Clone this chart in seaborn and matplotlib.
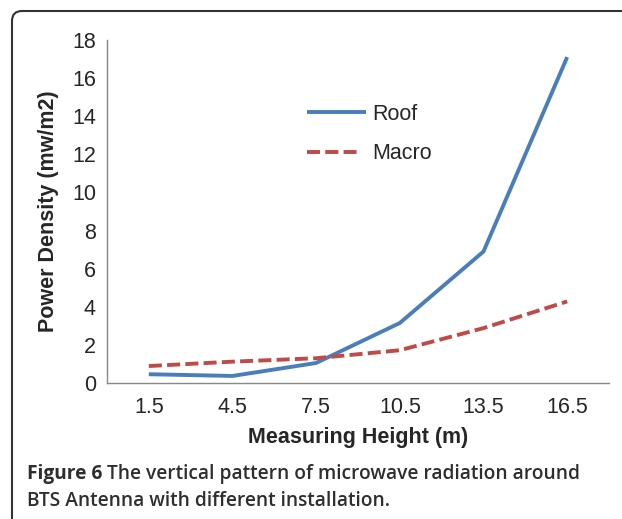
"""Power density vs. measuring height for BTS antenna installations."""

import matplotlib

matplotlib.use("Agg")
import matplotlib.pyplot as plt
import numpy as np
import pandas as pd
import seaborn as sns
from matplotlib.patches import FancyBboxPatch
from matplotlib.ticker import FixedLocator, NullFormatter

heights = ["1.5", "4.5", "7.5", "10.5", "13.5", "16.5"]
roof = [0.46, 0.37, 1.05, 3.15, 6.9, 17.1]
macro = [0.89, 1.12, 1.3, 1.72, 2.88, 4.28]
series_names = ["Roof", "Macro"]

df = pd.DataFrame(
    {
        "height": heights * 2,
        "density": roof + macro,
        "series": [series_names[0]] * len(heights) + [series_names[1]] * len(heights),
    }
)

sns.set_style("white")
plt.rcParams["font.family"] = ["Liberation Sans", "DejaVu Sans"]

W, H = 622, 519
FS = 15.5
fig = plt.figure(figsize=(W / 100, H / 100), dpi=100)
ax = fig.add_axes([107 / W, 1 - 383 / H, 502 / W, 343 / H])

sns.lineplot(
    data=df,
    x="height",
    y="density",
    hue="series",
    style="series",
    palette={"Roof": "#4a7ebb", "Macro": "#be4b48"},
    dashes={"Roof": "", "Macro": (3.35, 1.35)},
    linewidth=2.8,
    sort=False,
    ax=ax,
)
for line in ax.get_lines():
    line.set_dash_capstyle("butt")
    line.set_solid_capstyle("butt")

ax.set_xlim(-0.5, len(heights) - 0.5)
ax.set_ylim(0, 18)
ax.set_yticks(range(0, 19, 2))
ax.tick_params(axis="y", labelsize=FS, length=5, width=1, color="#888888", direction="out", pad=3)

# ticks sit between categories, labels under the categories
ax.xaxis.set_major_locator(FixedLocator([i - 0.5 for i in range(len(heights) + 1)]))
ax.xaxis.set_major_formatter(NullFormatter())
ax.xaxis.set_minor_locator(FixedLocator(range(len(heights))))
ax.set_xticks(range(len(heights)), heights, minor=True)
ax.tick_params(axis="x", which="major", length=6, width=1, color="#888888", direction="out")
ax.tick_params(axis="x", which="minor", length=0, labelsize=FS, pad=10)

for side in ["top", "right"]:
    ax.spines[side].set_visible(False)
for side in ["left", "bottom"]:
    ax.spines[side].set_color("#888888")
    ax.spines[side].set_linewidth(1)

ax.set_xlabel("")
ax.set_ylabel("")
fig.text(358 / W, 1 - 437 / H, "Measuring Height (m)", ha="center", va="center",
         fontsize=FS, fontweight="bold")
fig.text(49 / W, 1 - 211 / H, "Power Density (mw/m2)", ha="center", va="center",
         rotation=90, fontsize=FS, fontweight="bold")

leg = ax.legend(
    loc="upper left",
    bbox_to_anchor=(307 / W, 1 - 104 / H),
    bbox_transform=fig.transFigure,
    frameon=False,
    fontsize=FS,
    handlelength=2.75,
    handletextpad=0.3,
    labelspacing=0.85,
    borderpad=0,
    borderaxespad=0,
)
# dashed handle shows three whole dashes, a bit shorter than the solid one
for handle in leg.get_lines():
    handle.set_dash_capstyle("butt")
    handle.set_solid_capstyle("butt")
    if handle.get_label() == "Macro":
        xd = np.asarray(handle.get_xdata(), dtype=float)
        handle.set_xdata(xd[0] + (xd - xd[0]) * 0.88)

# caption
cap_color = "#2e2e2e"
cap_font = ["Open Sans", "DejaVu Sans"]
CFS = 13.8
t1 = fig.text(27 / W, 1 - 474 / H, "Figure 6", ha="left", va="center", fontsize=CFS,
              fontweight="bold", color=cap_color, family=cap_font)
renderer = fig.canvas.get_renderer()
bb = t1.get_window_extent(renderer)
fig.text((bb.x1 + 5) / W, 1 - 474 / H, "The vertical pattern of microwave radiation around",
         ha="left", va="center", fontsize=CFS, fontweight="semibold", color=cap_color,
         family=cap_font)
fig.text(27 / W, 1 - 501 / H, "BTS Antenna with different installation.", ha="left",
         va="center", fontsize=CFS, fontweight="semibold", color=cap_color, family=cap_font)

# rounded frame, cut at right and bottom edges
frame = FancyBboxPatch((12, -30), 660, 538, boxstyle="round,pad=0,rounding_size=10",
                       transform=None, fill=False, edgecolor="#333333", linewidth=1.5)
fig.add_artist(frame)

fig.savefig("out.png", dpi=100)
plt.close(fig)
